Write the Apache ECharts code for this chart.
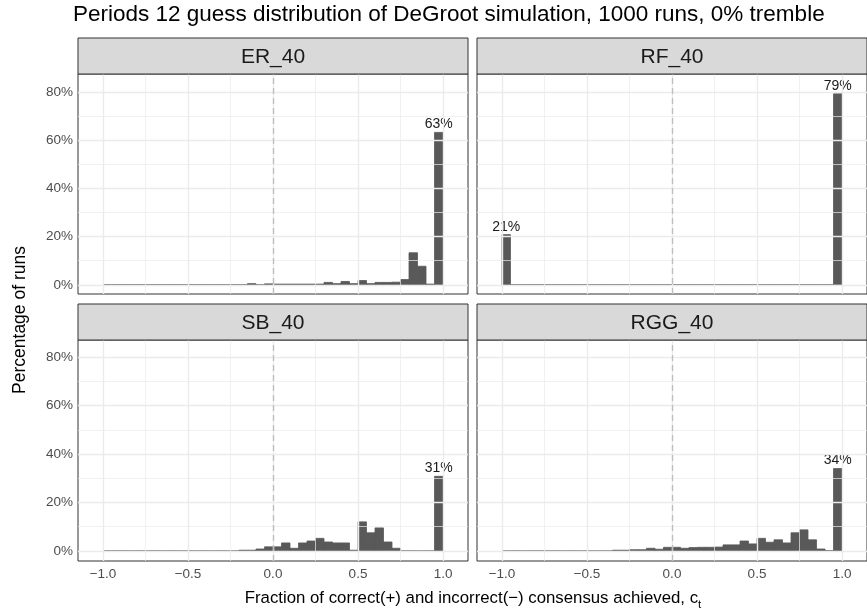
<!DOCTYPE html>
<html>
<head>
<meta charset="utf-8">
<script src="https://cdn.jsdelivr.net/npm/echarts@6/dist/echarts.min.js"></script>
<style>
  html, body { margin: 0; padding: 0; background: #fff; }
  #main { width: 867px; height: 613px; }
</style>
</head>
<body>
<div id="main"></div>
<script>
// histogram bins: 40 bins of width 0.05 from -1 to 1
const binStart = -1;
const binWidth = 0.05;

const panelNames = ['ER_40', 'RF_40', 'SB_40', 'RGG_40'];

// percentage of runs per bin
const erValues = [0, 0, 0, 0, 0, 0, 0, 0, 0, 0, 0, 0, 0, 0, 0, 0, 0,
  0.5, 0, 0.4, 0.3, 0.3, 0.3, 0.3, 0.3, 0.3, 1.0, 0.5, 1.4, 0.5, 1.8, 0.5,
  1.0, 1.0, 1.1, 2.2, 13.3, 7.7, 0.3, 63.2];
const rfValues = [20.8, 0, 0, 0, 0, 0, 0, 0, 0, 0, 0, 0, 0, 0, 0, 0, 0, 0, 0, 0,
  0, 0, 0, 0, 0, 0, 0, 0, 0, 0, 0, 0, 0, 0, 0, 0, 0, 0, 0, 79.2];
const sbValues = [0, 0, 0, 0, 0, 0, 0, 0, 0, 0, 0, 0, 0, 0, 0, 0,
  0.3, 0.3, 0.8, 1.7, 1.7, 3.3, 1.1, 3.3, 4.1, 5.2, 3.7, 3.3, 3.3, 0.3,
  12.0, 7.5, 9.5, 3.7, 1.1, 0, 0, 0, 0, 30.8];
const rggValues = [0, 0, 0, 0, 0, 0, 0, 0, 0, 0, 0, 0, 0,
  0.3, 0.3, 0.5, 0.5, 1.1, 0.7, 1.5, 1.5, 1.1, 1.4, 1.5, 1.5, 1.6, 2.5, 2.5,
  4.1, 2.9, 5.2, 3.6, 4.6, 3.3, 7.5, 8.7, 4.6, 0.8, 0.1, 34.0];

const panelValues = [erValues, rfValues, sbValues, rggValues];

const xTicks = [-1, -0.5, 0, 0.5, 1];
const xMinor = [-0.75, -0.25, 0.25, 0.75];
const yTicks = [0, 20, 40, 60, 80];
const yMinor = [10, 30, 50, 70];
const labelThreshold = 15;

// layout of the 2x2 facets
const panelLeft = [78, 477, 78, 477];
const panelTop = [74, 74, 340, 340];
const panelW = 390;
const panelH = [220, 220, 221, 221];
const yRange = [[-3.8, 87.4], [-3.8, 87.4], [-4.15, 87.05], [-4.15, 87.05]];
const stripH = 36;

const barColor = '#595959';
const gridColor = '#EBEBEB';

function fmtX(v) {
  return v < 0 ? '\u2212' + Math.abs(v).toFixed(1) : v.toFixed(1);
}

const grids = [], xAxes = [], yAxes = [], series = [], graphics = [];

panelValues.forEach((vals, i) => {
  const bottomRow = i >= 2;
  const leftCol = i % 2 === 0;
  grids.push({
    left: panelLeft[i], top: panelTop[i], width: panelW, height: panelH[i],
    show: true, borderColor: '#333333', borderWidth: 1, backgroundColor: '#fff'
  });
  xAxes.push({
    type: 'value', gridIndex: i, min: -1.147, max: 1.147,
    axisLine: { show: false },
    splitLine: { show: false },
    axisTick: { show: bottomRow, customValues: xTicks, length: 4, lineStyle: { color: '#333333' } },
    axisLabel: { show: bottomRow, customValues: xTicks, formatter: fmtX, color: '#4D4D4D',
      fontSize: 13.5, fontFamily: 'Liberation Sans', margin: 6 }
  });
  yAxes.push({
    type: 'value', gridIndex: i, min: yRange[i][0], max: yRange[i][1],
    axisLine: { show: false },
    splitLine: { show: false },
    axisTick: { show: leftCol, customValues: yTicks, length: 4, lineStyle: { color: '#333333' } },
    axisLabel: { show: leftCol, customValues: yTicks, formatter: v => v + '%', color: '#4D4D4D',
      fontSize: 13.5, fontFamily: 'Liberation Sans', margin: 5 }
  });

  // grid lines + dashed zero line
  const lines = [];
  xTicks.forEach(v => lines.push({ xAxis: v, lineStyle: { color: gridColor, width: 1.4, type: 'solid' } }));
  xMinor.forEach(v => lines.push({ xAxis: v, lineStyle: { color: gridColor, width: 0.7, type: 'solid' } }));
  yTicks.forEach(v => lines.push({ yAxis: v, lineStyle: { color: gridColor, width: 1.4, type: 'solid' } }));
  yMinor.forEach(v => lines.push({ yAxis: v, lineStyle: { color: gridColor, width: 0.7, type: 'solid' } }));
  lines.push({ xAxis: 0, lineStyle: { color: '#BEBEBE', width: 1.3, type: [6, 4] } });
  series.push({
    type: 'scatter', xAxisIndex: i, yAxisIndex: i, data: [], silent: true, z: 1,
    markLine: { symbol: 'none', silent: true, label: { show: false }, data: lines, animation: false }
  });

  const data = vals.map((v, k) => [binStart + k * binWidth, binStart + (k + 1) * binWidth, v]);
  series.push({
    type: 'custom', xAxisIndex: i, yAxisIndex: i, z: 3,
    data: data,
    renderItem: (params, api) => {
      const x0 = api.value(0), x1 = api.value(1), y = api.value(2);
      const p0 = api.coord([x0, y]);
      const p1 = api.coord([x1, 0]);
      const children = [{
        type: 'rect',
        shape: { x: p0[0], y: p0[1], width: p1[0] - p0[0], height: p1[1] - p0[1] },
        style: { fill: barColor, stroke: barColor, lineWidth: 0.8 }
      }];
      if (y >= labelThreshold) {
        children.push({
          type: 'text',
          style: {
            x: (p0[0] + p1[0]) / 2, y: p0[1] - 1,
            text: Math.round(y) + '%', align: 'center', verticalAlign: 'bottom',
            fill: '#1A1A1A', font: '14px "Liberation Sans"'
          }
        });
      }
      return { type: 'group', children: children };
    }
  });

  // facet strip
  graphics.push({
    type: 'rect', shape: { x: panelLeft[i], y: panelTop[i] - stripH, width: panelW, height: stripH },
    style: { fill: '#D9D9D9', stroke: '#333333', lineWidth: 1 }, z: 10
  });
  graphics.push({
    type: 'text', x: panelLeft[i] + panelW / 2, y: panelTop[i] - stripH / 2 + 1,
    style: { text: panelNames[i], align: 'center', verticalAlign: 'middle',
      fill: '#1A1A1A', font: '21px "Liberation Sans"' }, z: 11
  });
});

// axis titles
graphics.push({
  type: 'text', x: 20, y: 320, rotation: Math.PI / 2,
  style: { text: 'Percentage of runs', align: 'center', verticalAlign: 'middle',
    fill: '#000', font: '17.5px "Liberation Sans"' }
});
graphics.push({
  type: 'text', x: 473, y: 598,
  style: {
    text: '{m|Fraction of correct(+) and incorrect(\u2212) consensus achieved, c}{s|t}',
    align: 'center', verticalAlign: 'middle',
    rich: {
      m: { fontSize: 16.8, fontFamily: 'Liberation Sans', fill: '#000', lineHeight: 26 },
      s: { fontSize: 11.5, fontFamily: 'Liberation Sans', fill: '#000', verticalAlign: 'bottom', lineHeight: 11 }
    }
  }
});

const option = {
  animation: false,
  backgroundColor: '#fff',
  title: {
    text: 'Periods 12 guess distribution of DeGroot simulation, 1000 runs, 0% tremble',
    left: 68, top: -2,
    textStyle: { fontSize: 22.5, fontWeight: 'normal', color: '#000', fontFamily: 'Liberation Sans' }
  },
  grid: grids,
  xAxis: xAxes,
  yAxis: yAxes,
  series: series,
  graphic: graphics
};

const myChart = echarts.init(document.getElementById('main'));
myChart.setOption(option);
</script>
</body>
</html>
